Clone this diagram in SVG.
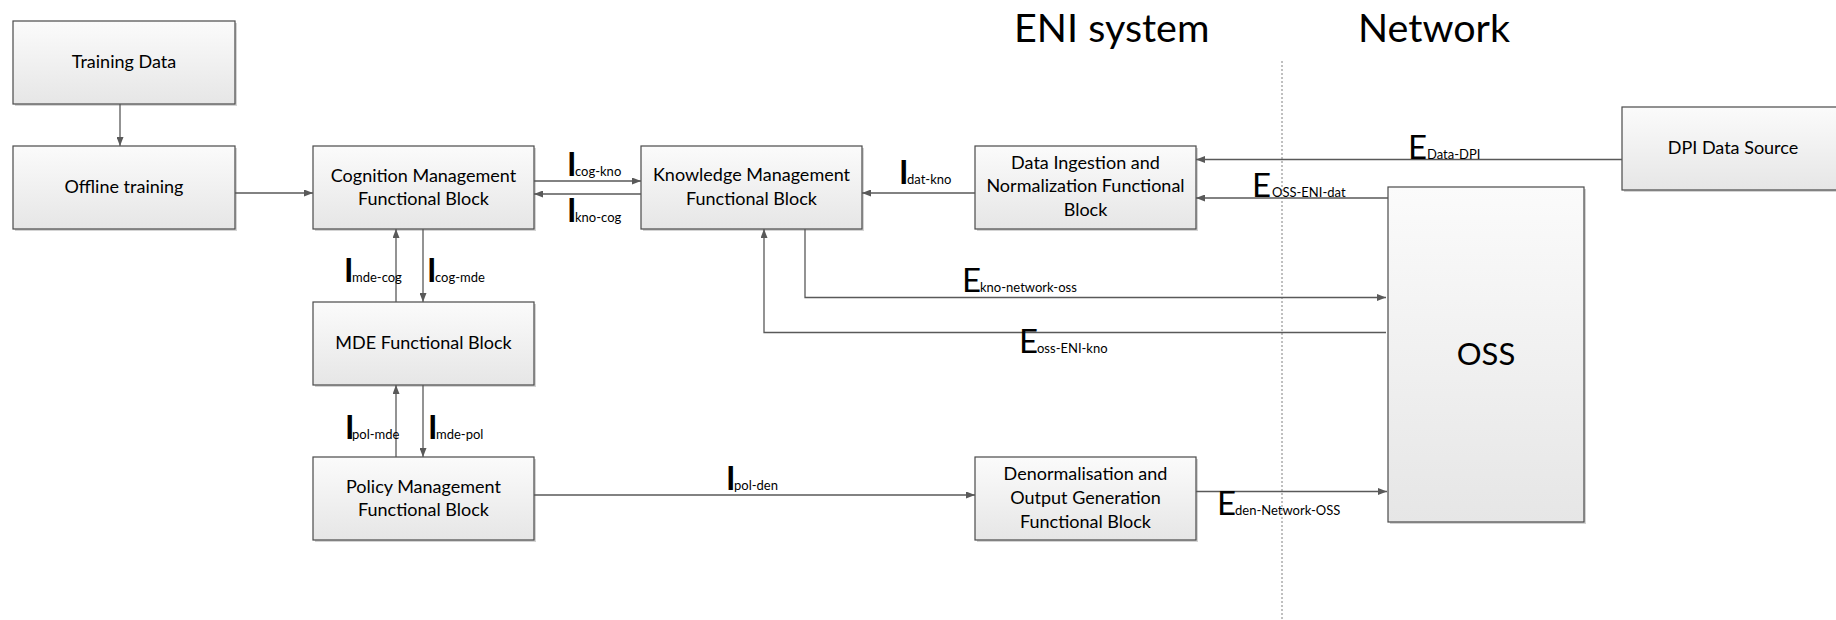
<svg xmlns="http://www.w3.org/2000/svg" width="1836" height="620" viewBox="0 0 1836 620">
<defs>
<linearGradient id="g" x1="0" y1="0" x2="0" y2="1">
<stop offset="0" stop-color="#fbfbfb"/>
<stop offset="1" stop-color="#e6e6e6"/>
</linearGradient>
<marker id="ah" viewBox="0 0 9 7" markerWidth="9" markerHeight="7" refX="9" refY="3.5" orient="auto" markerUnits="userSpaceOnUse">
<path d="M0,0 L9,3.5 L0,7 z" fill="#595959"/>
</marker>
<style>
.box{fill:url(#g);stroke:#4a4a4a;stroke-width:1.2}
.sh{fill:#d4d4d4}
.t{font-family:Lato,"Liberation Sans",sans-serif;font-size:18px;fill:#000;text-anchor:middle}
.title{font-family:Lato,"Liberation Sans",sans-serif;font-size:39.5px;fill:#000}
.oss{font-family:Lato,"Liberation Sans",sans-serif;font-size:31px;fill:#000;text-anchor:middle}
.lab{font-family:Lato,"Liberation Sans",sans-serif;fill:#000}
.bi{font-size:32px;font-weight:bold}
.be{font-size:33px}
.sub{font-size:13px}
.c{fill:none;stroke:#595959;stroke-width:1.3}
.a{marker-end:url(#ah)}
.dash{stroke:#808080;stroke-width:1;stroke-dasharray:2 2;fill:none}
</style>
</defs>
<rect width="1836" height="620" fill="#fff"/>

<text class="title" x="1014" y="42">ENI system</text>
<text class="title" x="1358" y="42">Network</text>
<line class="dash" x1="1282" y1="61" x2="1282" y2="620"/>

<g id="training">
<rect class="sh" x="15" y="23" width="222" height="83"/>
<rect class="box" x="13" y="21" width="222" height="83"/>
<text class="t" x="124" y="68">Training Data</text>
</g>
<g id="offline">
<rect class="sh" x="15" y="148" width="222" height="83"/>
<rect class="box" x="13" y="146" width="222" height="83"/>
<text class="t" x="124" y="193">Offline training</text>
</g>
<g id="cognition">
<rect class="sh" x="315" y="148" width="221" height="83"/>
<rect class="box" x="313" y="146" width="221" height="83"/>
<text class="t" x="423.5" y="182">Cognition Management</text>
<text class="t" x="423.5" y="205">Functional Block</text>
</g>
<g id="knowledge">
<rect class="sh" x="643" y="148" width="221" height="83"/>
<rect class="box" x="641" y="146" width="221" height="83"/>
<text class="t" x="751.5" y="181">Knowledge Management</text>
<text class="t" x="751.5" y="205">Functional Block</text>
</g>
<g id="dataingestion">
<rect class="sh" x="977" y="148" width="221" height="83"/>
<rect class="box" x="975" y="146" width="221" height="83"/>
<text class="t" x="1085.5" y="169">Data Ingestion and</text>
<text class="t" x="1085.5" y="192">Normalization Functional</text>
<text class="t" x="1085.5" y="216">Block</text>
</g>
<g id="mde">
<rect class="sh" x="315" y="304" width="221" height="83"/>
<rect class="box" x="313" y="302" width="221" height="83"/>
<text class="t" x="423.5" y="349">MDE Functional Block</text>
</g>
<g id="policy">
<rect class="sh" x="315" y="459" width="221" height="83"/>
<rect class="box" x="313" y="457" width="221" height="83"/>
<text class="t" x="423.5" y="493">Policy Management</text>
<text class="t" x="423.5" y="516">Functional Block</text>
</g>
<g id="denorm">
<rect class="sh" x="977" y="459" width="221" height="83"/>
<rect class="box" x="975" y="457" width="221" height="83"/>
<text class="t" x="1085.5" y="480">Denormalisation and</text>
<text class="t" x="1085.5" y="504">Output Generation</text>
<text class="t" x="1085.5" y="528">Functional Block</text>
</g>
<g id="dpi">
<rect class="sh" x="1624" y="109" width="221" height="83"/>
<rect class="box" x="1622" y="107" width="221" height="83"/>
<text class="t" x="1733" y="154">DPI Data Source</text>
</g>
<g id="oss">
<rect class="sh" x="1390" y="189" width="196" height="335"/>
<rect class="box" x="1388" y="187" width="196" height="335"/>
<text class="oss" x="1486" y="365">OSS</text>
</g>

<g id="connectors">
<line class="c a" x1="120" y1="104" x2="120" y2="146"/>
<line class="c a" x1="235" y1="193" x2="313" y2="193"/>
<line class="c a" x1="534" y1="181" x2="641" y2="181"/>
<line class="c a" x1="641" y1="194" x2="534" y2="194"/>
<line class="c a" x1="396" y1="302" x2="396" y2="229"/>
<line class="c a" x1="423" y1="229" x2="423" y2="302"/>
<line class="c a" x1="396" y1="457" x2="396" y2="385"/>
<line class="c a" x1="423" y1="385" x2="423" y2="457"/>
<line class="c a" x1="975" y1="193" x2="862" y2="193"/>
<line class="c a" x1="1622" y1="159.5" x2="1196" y2="159.5"/>
<line class="c a" x1="1388" y1="198" x2="1196" y2="198"/>
<path class="c a" d="M805 229 V297.5 H1386"/>
<path class="c a" d="M1386 332.5 H764 V229"/>
<line class="c a" x1="534" y1="495" x2="975" y2="495"/>
<line class="c a" x1="1196" y1="491.5" x2="1387" y2="491.5"/>
</g>

<g id="labels">
<text class="lab" y="176"><tspan class="bi" x="567">I</tspan><tspan class="sub" x="575">cog-kno</tspan></text>
<text class="lab" y="222"><tspan class="bi" x="567">I</tspan><tspan class="sub" x="575">kno-cog</tspan></text>
<text class="lab" y="281.5"><tspan class="bi" x="344">I</tspan><tspan class="sub" x="352">mde-cog</tspan></text>
<text class="lab" y="281.5"><tspan class="bi" x="427">I</tspan><tspan class="sub" x="435">cog-mde</tspan></text>
<text class="lab" y="438.5"><tspan class="bi" x="345">I</tspan><tspan class="sub" x="352">pol-mde</tspan></text>
<text class="lab" y="438.5"><tspan class="bi" x="428">I</tspan><tspan class="sub" x="436">mde-pol</tspan></text>
<text class="lab" y="183.5"><tspan class="bi" x="899">I</tspan><tspan class="sub" x="907">dat-kno</tspan></text>
<text class="lab" y="489.5"><tspan class="bi" x="726">I</tspan><tspan class="sub" x="734">pol-den</tspan></text>
<text class="lab" y="159"><tspan class="be" x="1408">E</tspan><tspan class="sub" x="1427">Data-DPI</tspan></text>
<text class="lab" y="196.5"><tspan class="be" x="1252">E</tspan><tspan class="sub" x="1272">OSS-ENI-dat</tspan></text>
<text class="lab" y="291.5"><tspan class="be" x="962">E</tspan><tspan class="sub" x="980">kno-network-oss</tspan></text>
<text class="lab" y="352.5"><tspan class="be" x="1019">E</tspan><tspan class="sub" x="1037">oss-ENI-kno</tspan></text>
<text class="lab" y="515"><tspan class="be" x="1217">E</tspan><tspan class="sub" x="1235">den-Network-OSS</tspan></text>
</g>
</svg>
